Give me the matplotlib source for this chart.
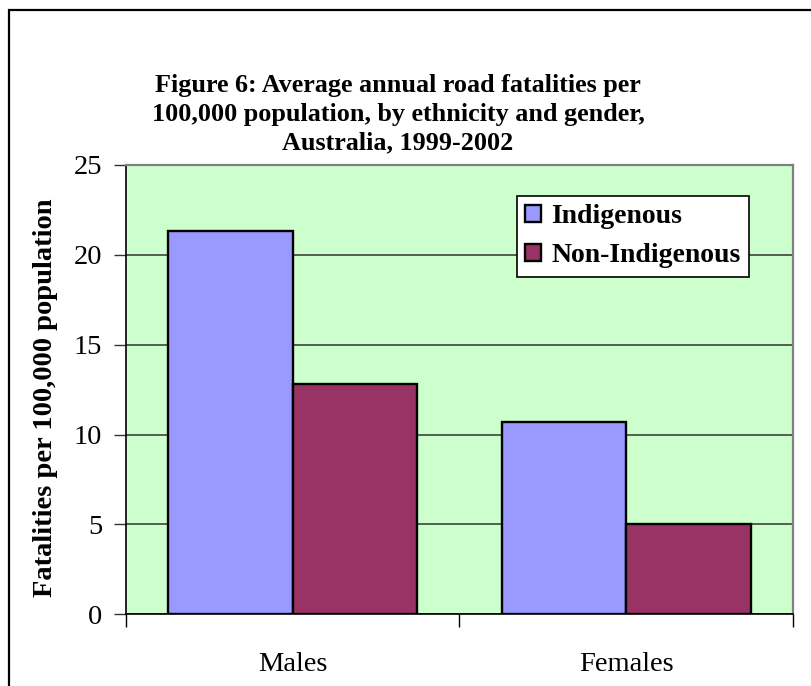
import matplotlib
matplotlib.use("Agg")
import matplotlib.pyplot as plt
from matplotlib.patches import Rectangle
import numpy as np

# Data
categories = ["Males", "Females"]
series_names = ["Indigenous", "Non-Indigenous"]
indigenous = [21.3, 10.7]
non_indigenous = [12.8, 5.0]
y_ticks = [0, 5, 10, 15, 20, 25]

colors = ["#9999FF", "#993366"]
plt.rcParams["font.family"] = ["Liberation Serif", "DejaVu Serif"]

W, H = 812, 686
fig = plt.figure(figsize=(W / 100, H / 100), dpi=100)
fig.patch.set_facecolor("white")

ax = fig.add_axes([126 / W, 1 - 614.3 / H, (792.7 - 126) / W, (614.3 - 165) / H])
ax.set_facecolor("#CCFFCC")

x = np.arange(len(categories))
bw = 0.3735
ax.bar(x - bw / 2, indigenous, bw, color=colors[0], edgecolor="black",
       linewidth=1.7, label=series_names[0], zorder=3)
ax.bar(x + bw / 2, non_indigenous, bw, color=colors[1], edgecolor="black",
       linewidth=1.7, label=series_names[1], zorder=3)

ax.set_xlim(-0.5, len(categories) - 0.5)
ax.set_ylim(0, 25)
ax.set_yticks(y_ticks)
ax.set_yticklabels([str(v) for v in y_ticks])
ax.yaxis.grid(True, color="#333333", linewidth=1.1, zorder=1)
ax.set_axisbelow(True)

# category boundary ticks and centred labels
ax.set_xticks(np.arange(len(categories) + 1) - 0.5)
ax.set_xticklabels([])
ax.set_xticks(x, minor=True)
ax.set_xticklabels(categories, minor=True)
ax.tick_params(axis="x", which="major", length=9, width=1, direction="out", color="black")
ax.tick_params(axis="x", which="minor", length=0, pad=27, labelsize=20.5)
ax.tick_params(axis="y", length=9, width=1, direction="out", color="#333333",
               pad=8, labelsize=20.5)

for side in ["top", "right"]:
    ax.spines[side].set_color("#808080")
    ax.spines[side].set_linewidth(1.6)
for side in ["left", "bottom"]:
    ax.spines[side].set_color("black")
    ax.spines[side].set_linewidth(1.2)

ax.set_ylabel("Fatalities per 100,000 population", fontsize=20.5, fontweight="bold",
              va="center")
ax.yaxis.set_label_coords((46 - 126) / (792.7 - 126), (614.3 - 397.5) / (614.3 - 165))

fig.text(398 / W, 1 - 114 / H,
         "Figure 6: Average annual road fatalities per\n"
         "100,000 population, by ethnicity and gender,\n"
         "Australia, 1999-2002",
         ha="center", va="center", fontsize=18.8, fontweight="bold",
         linespacing=1.32)

leg = ax.legend(loc="upper left", bbox_to_anchor=(517 / W, 1 - 196 / H),
                bbox_transform=fig.transFigure, fancybox=False, framealpha=1,
                edgecolor="black", prop={"size": 20, "weight": "bold"},
                handlelength=0.58, handleheight=0.58, handletextpad=0.36,
                borderpad=0.3, labelspacing=0.5, borderaxespad=0)
leg.get_frame().set_linewidth(1.2)

# outer chart border
fig.add_artist(Rectangle((9.5 / W, -0.1), 2, 1.1 - 9.5 / H, transform=fig.transFigure,
                         fill=False, edgecolor="black", linewidth=1.6))

fig.savefig("out.png", dpi=100)
